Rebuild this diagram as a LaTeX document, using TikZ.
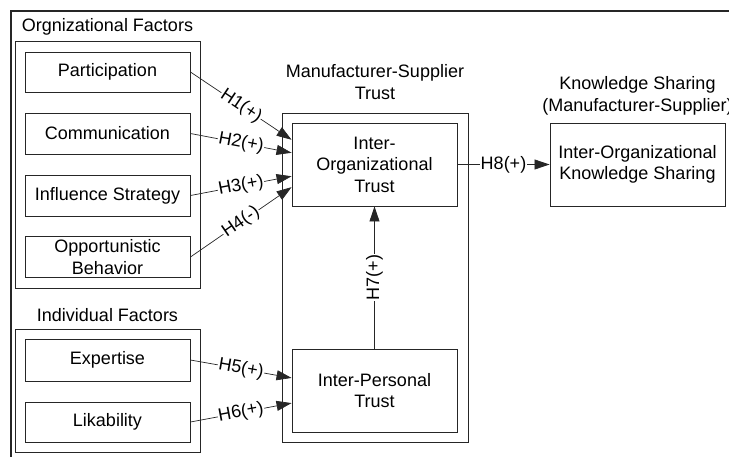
\documentclass[tikz,border=0pt]{standalone}
\usepackage{fontspec}
\setmainfont{Liberation Sans}
\usetikzlibrary{arrows.meta,calc}
\begin{document}
\begin{tikzpicture}[x=1pt,y=-1pt,
  every node/.style={font=\fontsize{18}{21.6}\selectfont, text=black},
  fbox/.style={draw=black!85, line width=0.9pt, align=center, inner sep=0pt},
  grp/.style={draw=black!85, line width=0.9pt, inner sep=0pt},
  ttl/.style={align=center, inner sep=0pt},
  arr/.style={draw=black!85, line width=0.7pt, -{Triangle[length=15pt,width=10pt]}},
  lbl/.style={midway, sloped, fill=white, inner sep=0.8pt}]
\useasboundingbox (0,0) rectangle (729,456);
% outer frame
\draw[line width=2pt, black!85] (11,460) -- (11,10.5) -- (735,10.5);
% group boxes
\node[grp, minimum width=185pt, minimum height=247pt] (orggrp) at (107.5,164.5) {};
\node[grp, minimum width=185pt, minimum height=123pt] (indgrp) at (107.5,390.5) {};
\node[grp, minimum width=186pt, minimum height=329pt] (midgrp) at (375,277.5) {};
% titles
\node[ttl] (torg) at (107.5,27) {Orgnizational Factors};
\node[ttl] (tind) at (107.5,315) {Individual Factors};
\node[ttl] (tmid) at (375,82) {Manufacturer-Supplier\\Trust};
\node[ttl] (tks) at (637.5,96) {Knowledge Sharing\\(Manufacturer-Supplier)};
% factor boxes
\node[fbox, minimum width=165pt, minimum height=40pt] (part) at (107.5,72) {Participation};
\node[fbox, minimum width=165pt, minimum height=41pt] (comm) at (107.5,133.5) {Communication};
\node[fbox, minimum width=165pt, minimum height=41pt] (infl) at (107.5,195.5) {Influence Strategy};
\node[fbox, minimum width=165pt, minimum height=41pt] (opp) at (107.5,257) {Opportunistic\\Behavior};
\node[fbox, minimum width=165pt, minimum height=42pt] (expe) at (107.5,360) {Expertise};
\node[fbox, minimum width=165pt, minimum height=40pt] (lik) at (107.5,422) {Likability};
% trust boxes
\node[fbox, minimum width=165pt, minimum height=83pt] (iot) at (374.5,164.5) {Inter-\\Organizational\\Trust};
\node[fbox, minimum width=165pt, minimum height=83pt] (ipt) at (374.5,390.5) {Inter-Personal\\Trust};
\node[fbox, minimum width=175pt, minimum height=83pt] (iks) at (637.5,164.5) {Inter-Organizational\\Knowledge Sharing};
% connectors
\draw[arr] (part.east) -- node[lbl]{H1(+)} ($(iot.north west)!0.205!(iot.south west)$);
\draw[arr] (comm.east) -- node[lbl]{H2(+)} ($(iot.north west)!0.36!(iot.south west)$);
\draw[arr] (infl.east) -- node[lbl]{H3(+)} ($(iot.north west)!0.64!(iot.south west)$);
\draw[arr] (opp.east) -- node[lbl]{H4(-)} ($(iot.north west)!0.77!(iot.south west)$);
\draw[arr] (expe.east) -- node[lbl]{H5(+)} ($(ipt.north west)!0.35!(ipt.south west)$);
\draw[arr] (lik.east) -- node[lbl]{H6(+)} ($(ipt.north west)!0.65!(ipt.south west)$);
\draw[arr] (ipt.north) -- node[lbl]{H7(+)} (iot.south);
\draw[arr] (iot.east) -- node[lbl]{H8(+)} (iks.west);
\end{tikzpicture}
\end{document}
